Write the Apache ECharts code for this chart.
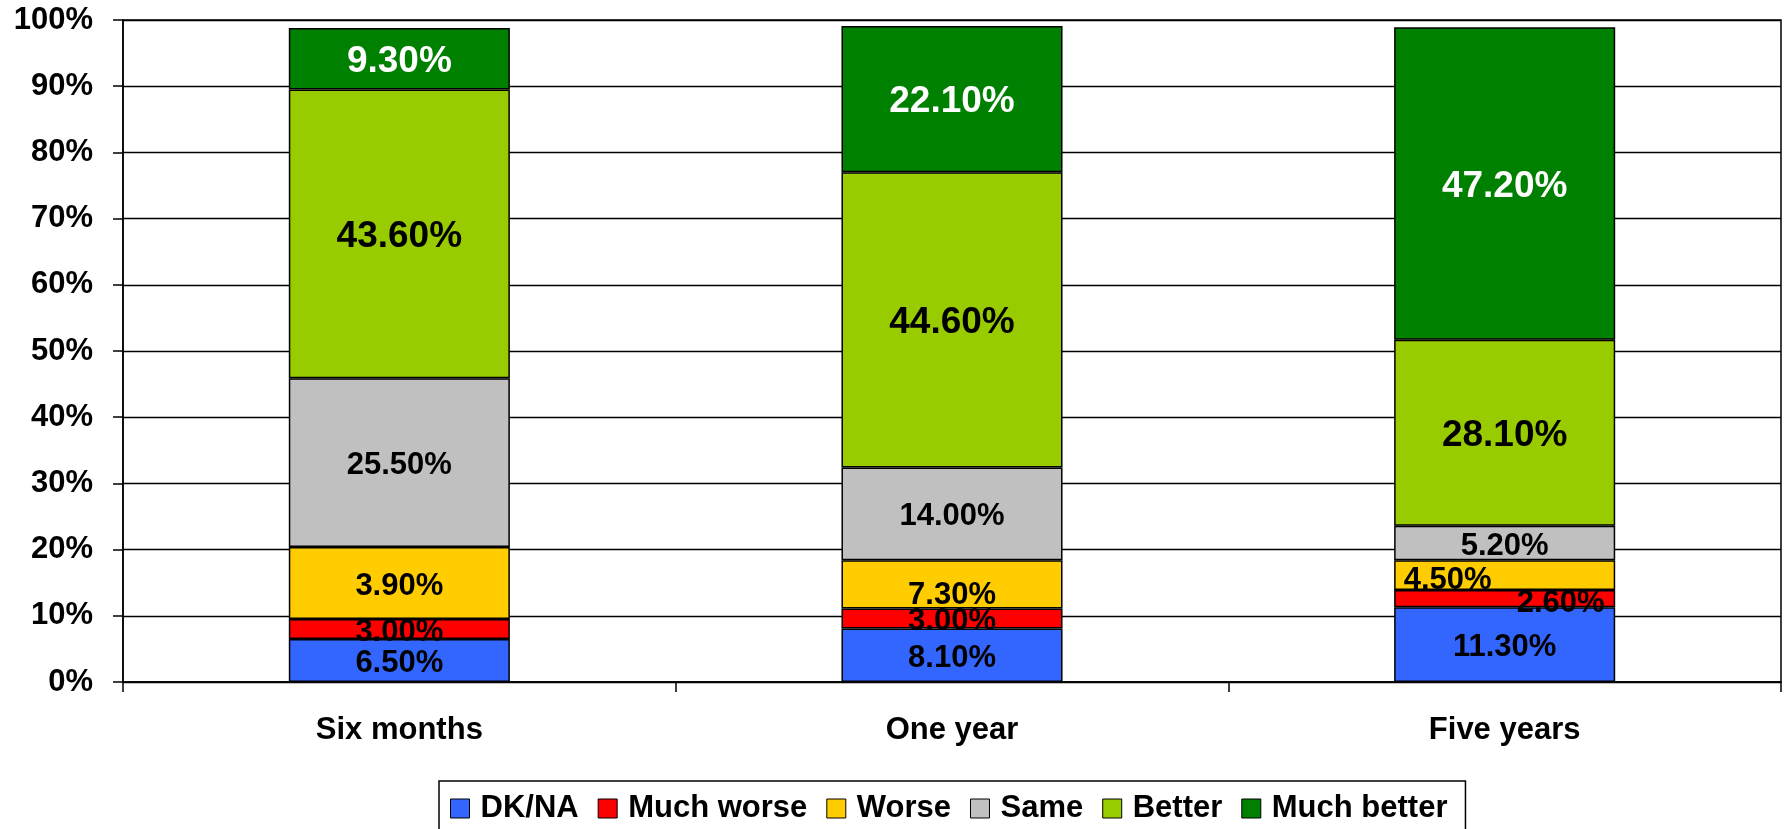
<!DOCTYPE html>
<html>
<head>
<meta charset="utf-8">
<script src="https://cdn.jsdelivr.net/npm/echarts@6/dist/echarts.min.js"></script>
<style>
html,body{margin:0;padding:0;background:#fff;}
#chart{width:1785px;height:829px;}
</style>
</head>
<body>
<div id="chart"></div>
<script>
// ---- data ----
const categories = ['Six months', 'One year', 'Five years'];
const seriesNames = ['DK/NA', 'Much worse', 'Worse', 'Same', 'Better', 'Much better'];
// segment heights (percent)
const dkna       = [6.5, 8.1, 11.3];
const muchWorse  = [3.0, 3.0, 2.6];
const worse      = [10.9, 7.3, 4.5];
const same       = [25.5, 14.0, 5.2];
const better     = [43.6, 44.6, 28.1];
const muchBetter = [9.3, 22.1, 47.2];
// label texts as printed on the picture
const dknaLabels       = ['6.50%', '8.10%', '11.30%'];
const muchWorseLabels  = ['3.00%', '3.00%', '2.60%'];
const worseLabels      = ['3.90%', '7.30%', '4.50%'];
const sameLabels       = ['25.50%', '14.00%', '5.20%'];
const betterLabels     = ['43.60%', '44.60%', '28.10%'];
const muchBetterLabels = ['9.30%', '22.10%', '47.20%'];
const yTicks = [0, 10, 20, 30, 40, 50, 60, 70, 80, 90, 100];

// ---- styling ----
const FONT = '"Liberation Sans", Arial, sans-serif';
const colors = ['#3366FF', '#FF0000', '#FFCC00', '#C0C0C0', '#99CC00', '#008000'];
const labelColors = ['#000', '#000', '#000', '#000', '#000', '#fff'];
const labelSizes = [31, 31, 31, 31, 37, 37];
const baseOffsetY = 3;
// manual label offsets [seriesIndex-categoryIndex]
const labelOffsets = {
  '1-2': [56, 2],
  '2-1': [0, 8],
  '2-2': [-57, 2]
};

const values = [dkna, muchWorse, worse, same, better, muchBetter];
const labels = [dknaLabels, muchWorseLabels, worseLabels, sameLabels, betterLabels, muchBetterLabels];

const series = seriesNames.map((name, si) => ({
  name: name,
  type: 'bar',
  stack: 'total',
  barWidth: '40%',
  itemStyle: { color: colors[si], borderColor: '#000', borderWidth: 1.5 },
  label: {
    show: true,
    position: 'inside',
    color: labelColors[si],
    fontFamily: FONT,
    fontWeight: 'bold',
    fontSize: labelSizes[si]
  },
  data: values[si].map((v, ci) => {
    const off = labelOffsets[si + '-' + ci] || [0, 0];
    return { value: v, label: { formatter: labels[si][ci], offset: [off[0], off[1] + baseOffsetY] } };
  })
}));

const chart = echarts.init(document.getElementById('chart'), null, { renderer: 'canvas' });
chart.setOption({
  animation: false,
  backgroundColor: '#fff',
  color: colors,
  grid: {
    left: 123, right: 4, top: 20, bottom: 147,
    show: true, borderColor: '#000', borderWidth: 1.5, backgroundColor: 'transparent'
  },
  legend: {
    data: seriesNames,
    left: 439,
    top: 781,
    orient: 'horizontal',
    icon: 'rect',
    itemWidth: 19,
    itemHeight: 19,
    itemGap: 19,
    padding: [12, 18, 40, 11],
    borderColor: '#000',
    borderWidth: 1.5,
    backgroundColor: '#fff',
    itemStyle: { borderColor: '#000', borderWidth: 1 },
    textStyle: {
      fontFamily: FONT, fontWeight: 'bold', fontSize: 31, color: '#000',
      padding: [0, 0, 0, 6]
    }
  },
  xAxis: {
    type: 'category',
    data: categories,
    boundaryGap: true,
    axisLine: { lineStyle: { color: '#000', width: 1.5 } },
    axisTick: { show: true, length: 10, alignWithLabel: false, lineStyle: { color: '#000', width: 1.5 } },
    axisLabel: { fontFamily: FONT, fontWeight: 'bold', fontSize: 31, color: '#000', margin: 33 },
    splitLine: { show: false }
  },
  yAxis: {
    type: 'value',
    min: yTicks[0],
    max: yTicks[yTicks.length - 1],
    interval: yTicks[1] - yTicks[0],
    axisLine: { show: true, lineStyle: { color: '#000', width: 1.5 } },
    axisTick: { show: true, length: 10, lineStyle: { color: '#000', width: 1.5 } },
    axisLabel: {
      fontFamily: FONT, fontWeight: 'bold', fontSize: 31, color: '#000', margin: 30,
      formatter: '{value}%', padding: [6, 0, 0, 0]
    },
    splitLine: { show: true, lineStyle: { color: '#000', width: 1.3 } }
  },
  series: series
});
</script>
</body>
</html>
